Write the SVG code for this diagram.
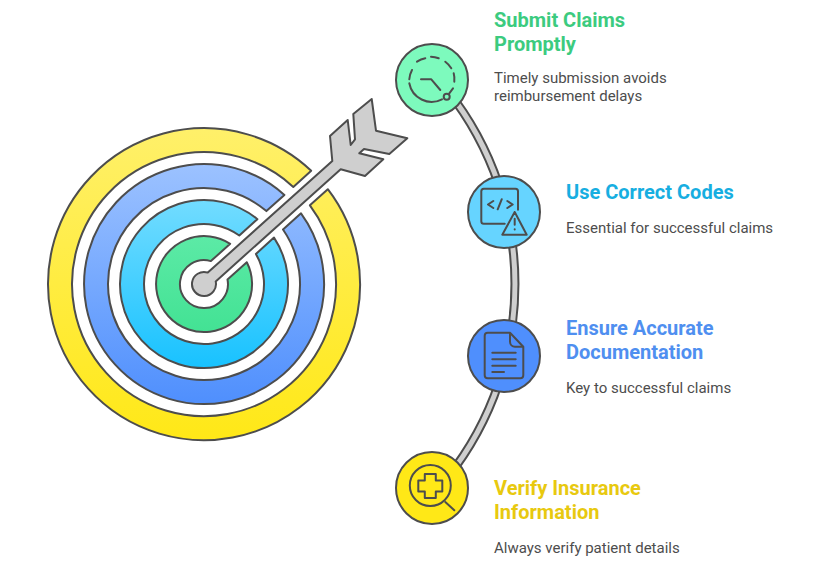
<svg xmlns="http://www.w3.org/2000/svg" width="828" height="582" viewBox="0 0 828 582">
<style>
.o{stroke:#4d4d4d;stroke-width:2;stroke-linejoin:round;stroke-linecap:round}
.i{fill:none;stroke:#4d4d4d;stroke-width:2;stroke-linejoin:round;stroke-linecap:round}
.t{font-family:Roboto,"Liberation Sans",sans-serif;font-weight:700;font-size:20px}
.d{font-family:Roboto,"Liberation Sans",sans-serif;font-size:15px;fill:#4d4d4d}
</style>
<defs>
<linearGradient id="gy" gradientUnits="userSpaceOnUse" x1="0" y1="128" x2="0" y2="440"><stop offset="0" stop-color="#fff06a"/><stop offset="1" stop-color="#ffe817"/></linearGradient>
<linearGradient id="gb" gradientUnits="userSpaceOnUse" x1="0" y1="164" x2="0" y2="404"><stop offset="0" stop-color="#9cc2ff"/><stop offset="1" stop-color="#4f8ffd"/></linearGradient>
<linearGradient id="gc" gradientUnits="userSpaceOnUse" x1="0" y1="200" x2="0" y2="368"><stop offset="0" stop-color="#72dcff"/><stop offset="1" stop-color="#18c2ff"/></linearGradient>
<linearGradient id="gg" gradientUnits="userSpaceOnUse" x1="0" y1="236" x2="0" y2="332"><stop offset="0" stop-color="#5ceaa6"/><stop offset="1" stop-color="#43e294"/></linearGradient>
</defs>
<g id="connectors">
<path d="M438.7 80A311 311 0 0 1 438.7 488" fill="none" stroke="#4d4d4d" stroke-width="9"/>
<path d="M438.7 80A311 311 0 0 1 438.7 488" fill="none" stroke="#cfcfcf" stroke-width="5"/>
</g>
<g id="target">
<path class="o" fill="url(#gy)" d="M311.2 170.8A156 156 0 1 0 327.8 189.2L309.9 205.3A132 132 0 1 1 293.3 186.9Z"/>
<path class="o" fill="url(#gb)" d="M284.4 194.9A120 120 0 1 0 301 213.3L283 229.5A96 96 0 1 1 266.4 211.1Z"/>
<path class="o" fill="url(#gc)" d="M257.4 219.2A84 84 0 1 0 274 237.6L255.9 253.9A60 60 0 1 1 239.3 235.5Z"/>
<path class="o" fill="url(#gg)" d="M230.2 243.8A48 48 0 1 0 246.8 262.2L227.5 279.5A24 24 0 1 1 210.9 261.1Z"/>
</g>
<g id="arrow">
<path class="o" fill="#cfcfcf" d="M207.8 272.6L332.3 161L330 136L347.7 120L350.7 145L355 139.3L353.3 114L371.7 99L376 130.7L407.3 138.3L389.3 154L364 149L359.3 153.3L383.3 159.3L365 176L340.7 169.3L215.7 281.4A12 12 0 1 1 207.8 272.6Z"/>
</g>
<g id="node-submit">
<circle class="o" cx="432" cy="80" r="36" fill="#7dfabd"/>
<path class="i" d="M409.3 79.3A22.7 22.7 0 0 1 412 70M417 61.7A22.7 22.7 0 0 1 425.3 58.3M431 56.7A22.7 22.7 0 0 1 438.7 58.3M445.3 61.7A22.7 22.7 0 0 1 451.3 68.3M453.7 73.3A22.7 22.7 0 0 1 454.3 81.7M409.3 83.3A22.7 22.7 0 0 0 442 99.3M449.3 93.3L453 88.3M421 79.3H431.3L440.3 90"/>
<circle class="i" cx="446.7" cy="96.7" r="3"/>
<text class="t" fill="#3ccb7f" x="494" y="27">Submit Claims</text>
<text class="t" fill="#3ccb7f" x="494" y="51">Promptly</text>
<text class="d" x="494" y="83">Timely submission avoids</text>
<text class="d" x="494" y="101">reimbursement delays</text>
</g>
<g id="node-codes">
<circle class="o" cx="504" cy="212" r="36" fill="#66d4ff"/>
<path class="i" d="M518 209.7V191.2A2.5 2.5 0 0 0 515.5 188.7H483.8A2.5 2.5 0 0 0 481.3 191.2V221.2A2.5 2.5 0 0 0 483.8 223.7H504.7M493.3 201L488 204.5L493.3 208M501.7 199.3L497.7 209.3M507.3 201L512.7 204.5L507.3 208M514.7 212L502.3 234.7H526.7ZM514.7 218.7V224.7M514.7 229.3V229.4"/>
<text class="t" fill="#17aee1" x="566" y="199">Use Correct Codes</text>
<text class="d" x="566" y="233">Essential for successful claims</text>
</g>
<g id="node-doc">
<circle class="o" cx="504" cy="356" r="36" fill="#4f8ffd"/>
<path class="i" d="M510 332.7H487.7A3 3 0 0 0 484.7 335.7V375.3A3 3 0 0 0 487.7 378.3H520.3A3 3 0 0 0 523.3 375.3V346.7ZM510 332.7V341.7A5 5 0 0 0 515 346.7H523.3M492.3 352.7H515.7M492.3 359.3H515.7M492.3 365.7H515.7M492.3 372H504"/>
<text class="t" fill="#4f8ff0" x="566" y="335">Ensure Accurate</text>
<text class="t" fill="#4f8ff0" x="566" y="359">Documentation</text>
<text class="d" x="566" y="393">Key to successful claims</text>
</g>
<g id="node-verify">
<circle class="o" cx="432" cy="488" r="36" fill="#ffe817"/>
<circle class="i" cx="430.3" cy="485.5" r="20.5"/>
<path class="i" d="M445.3 502L454.3 510.3M424.8 474H435.8V480.5H442.3V491.5H435.8V498H424.8V491.5H418.3V480.5H424.8Z"/>
<text class="t" fill="#e8c90f" x="494" y="495">Verify Insurance</text>
<text class="t" fill="#e8c90f" x="494" y="519">Information</text>
<text class="d" x="494" y="553">Always verify patient details</text>
</g>
</svg>
